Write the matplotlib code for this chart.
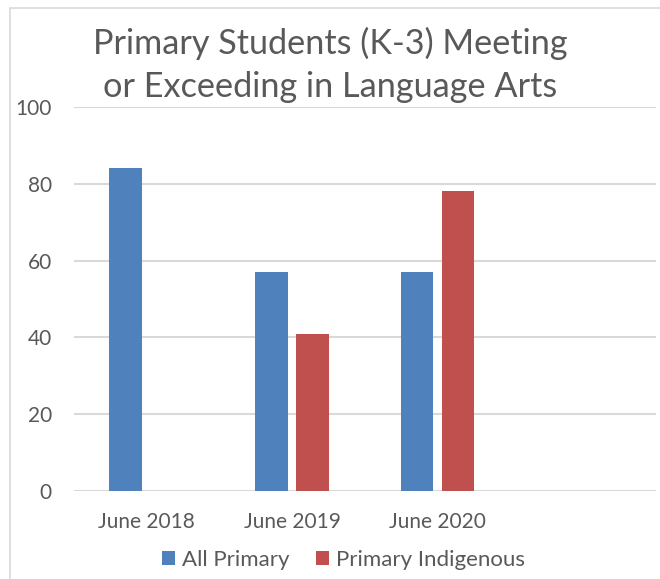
import matplotlib
matplotlib.use("Agg")
import matplotlib.pyplot as plt
import numpy as np
from matplotlib.patches import Rectangle

categories = ["June 2018", "June 2019", "June 2020", ""]
all_primary = [84, 57, 57, np.nan]
primary_indigenous = [np.nan, 41, 78, np.nan]
series_names = ["All Primary", "Primary Indigenous"]
yticks = [0, 20, 40, 60, 80, 100]
title = "Primary Students (K-3) Meeting\nor Exceeding in Language Arts"

plt.rcParams['font.family'] = ['Lato', 'DejaVu Sans']
txt = '#595959'
blue = '#4F81BD'
red = '#C0504D'

fig = plt.figure(figsize=(6.6, 5.79), dpi=100)
ax = fig.add_axes([73.5/660, 1-491/579, (656-73.5)/660, (491-107)/579])

x = np.arange(len(categories))
w = 0.224
off = 0.141
ax.bar(x - off, all_primary, w, color=blue, label=series_names[0], zorder=3)
ax.bar(x + off, primary_indigenous, w, color=red, label=series_names[1], zorder=3)

ax.set_xlim(-0.5, len(categories) - 0.5)
ax.set_ylim(0, 100)
ax.set_yticks(yticks)
ax.set_xticks(x)
ax.set_xticklabels(categories)
ax.grid(axis='y', color='#d9d9d9', linewidth=1.5, zorder=0)
ax.set_axisbelow(True)
for s in ax.spines.values():
    s.set_visible(False)
ax.tick_params(axis='both', length=0, labelcolor=txt, labelsize=15)
ax.tick_params(axis='y', pad=15.5)
ax.tick_params(axis='x', pad=15)

fig.text(0.5, 1-65/579, title, ha='center', va='center', fontsize=24.7,
         color=txt, linespacing=1.42)

leg = fig.legend(loc='center', bbox_to_anchor=(343.5/660, 1-560/579), ncol=2,
                 frameon=False, fontsize=16, handlelength=0.6, handleheight=0.6,
                 handletextpad=0.3, columnspacing=1.2, labelcolor=txt)

fig.patches.append(Rectangle((10/660, -0.1), 1.2, 1 - 8/579 + 0.1,
                             transform=fig.transFigure, fill=False,
                             edgecolor='#d9d9d9', linewidth=1.2))

fig.savefig('out.png', dpi=100)
